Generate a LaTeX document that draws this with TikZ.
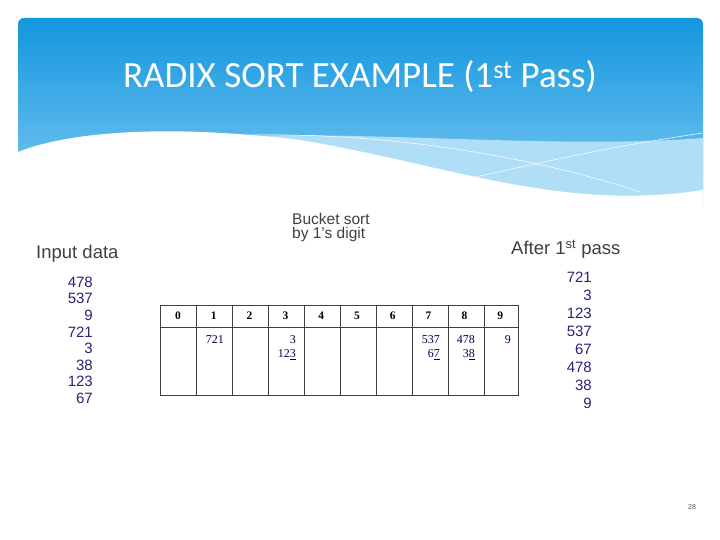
\documentclass[tikz,border=0pt]{standalone}
\usepackage{fontspec}
\setmainfont{Liberation Sans}
\newfontfamily\titlefont{Carlito}
\newfontfamily\tabfont{Liberation Serif}
\begin{document}
\begin{tikzpicture}[x=1pt,y=-1pt,
  lbl/.style={font=\fontsize{18.5}{20}\selectfont, text=black!75, inner sep=0pt},
  num/.style={font=\fontsize{15}{17}\selectfont, text=black!55!blue!70!gray, inner sep=0pt, anchor=east},
  cell/.style={draw=black!75, line width=0.8pt},
  hd/.style={font=\tabfont\bfseries\fontsize{11.5}{13}\selectfont, inner sep=0pt},
  tv/.style={font=\tabfont\fontsize{12}{14}\selectfont, inner sep=0pt, anchor=east, text=black!70!blue}]
\useasboundingbox (0,0) rectangle (720,540);
\fill[white] (0,0) rectangle (720,540);
% header
\definecolor{ctop}{HTML}{1296DE}\definecolor{cbot}{HTML}{7CC8F2}
\shade[top color=ctop, bottom color=cbot, rounded corners=6pt] (18,18) rectangle (703,200);
\fill[cbot!60!white] (200,138) .. controls (350,128) and (550,150) .. (703,138) -- (703,210) -- (200,210) -- cycle;
\fill[white] (18,152) .. controls (60,135) and (150,122) .. (300,140) .. controls (450,165) and (560,212) .. (703,190) -- (703,215) -- (18,215) -- cycle;
\draw[white, line width=0.5pt] (220,136) .. controls (400,128) and (560,165) .. (640,192);
\draw[white, line width=0.5pt] (450,183) .. controls (550,160) and (620,145) .. (703,133);
\node[font=\titlefont\fontsize{37}{40}\selectfont, text=white] (title) at (360,77) {RADIX SORT EXAMPLE (1\textsuperscript{st} Pass)};
% labels
\node[lbl, anchor=west] (inp) at (36,254) {Input data};
\node[lbl, anchor=west, font=\fontsize{15.5}{17}\selectfont, align=left] (bs) at (292,227) {Bucket sort\\[-3pt]by 1's digit};
\node[lbl, anchor=west] (aft) at (511,249) {After 1\textsuperscript{st} pass};
\foreach \v [count=\i] in {478,537,9,721,3,38,123,67}
  \node[num] (in\i) at (93,{282+(\i-1)*16.6}) {\v};
\foreach \v [count=\i] in {721,3,123,537,67,478,38,9}
  \node[num] (out\i) at (592,{277+(\i-1)*18}) {\v};
% table
\foreach \x in {160,196,232,268,304,340,376,412,448}
  \draw[cell] (\x,305) rectangle ++(36,90);
\draw[cell] (484,305) rectangle (518,395);
\draw[cell] (160,327) -- (518,327);
\foreach \d [count=\i from 0] in {0,...,9}
  \node[hd] (h\d) at ({178+\i*35.8},316) {\d};
\node[tv] (c1) at (224,340) {721};
\node[tv] (c3a) at (296,340) {3};
\node[tv] (c3b) at (296,355) {12\underline{3}};
\node[tv] (c7a) at (440,340) {537};
\node[tv] (c7b) at (440,355) {6\underline{7}};
\node[tv] (c8a) at (475,340) {478};
\node[tv] (c8b) at (475,355) {3\underline{8}};
\node[tv] (c9) at (511,340) {9};
\node[font=\fontsize{7}{8}\selectfont, text=black!70] (pg) at (692,507) {28};
\end{tikzpicture}
\end{document}
